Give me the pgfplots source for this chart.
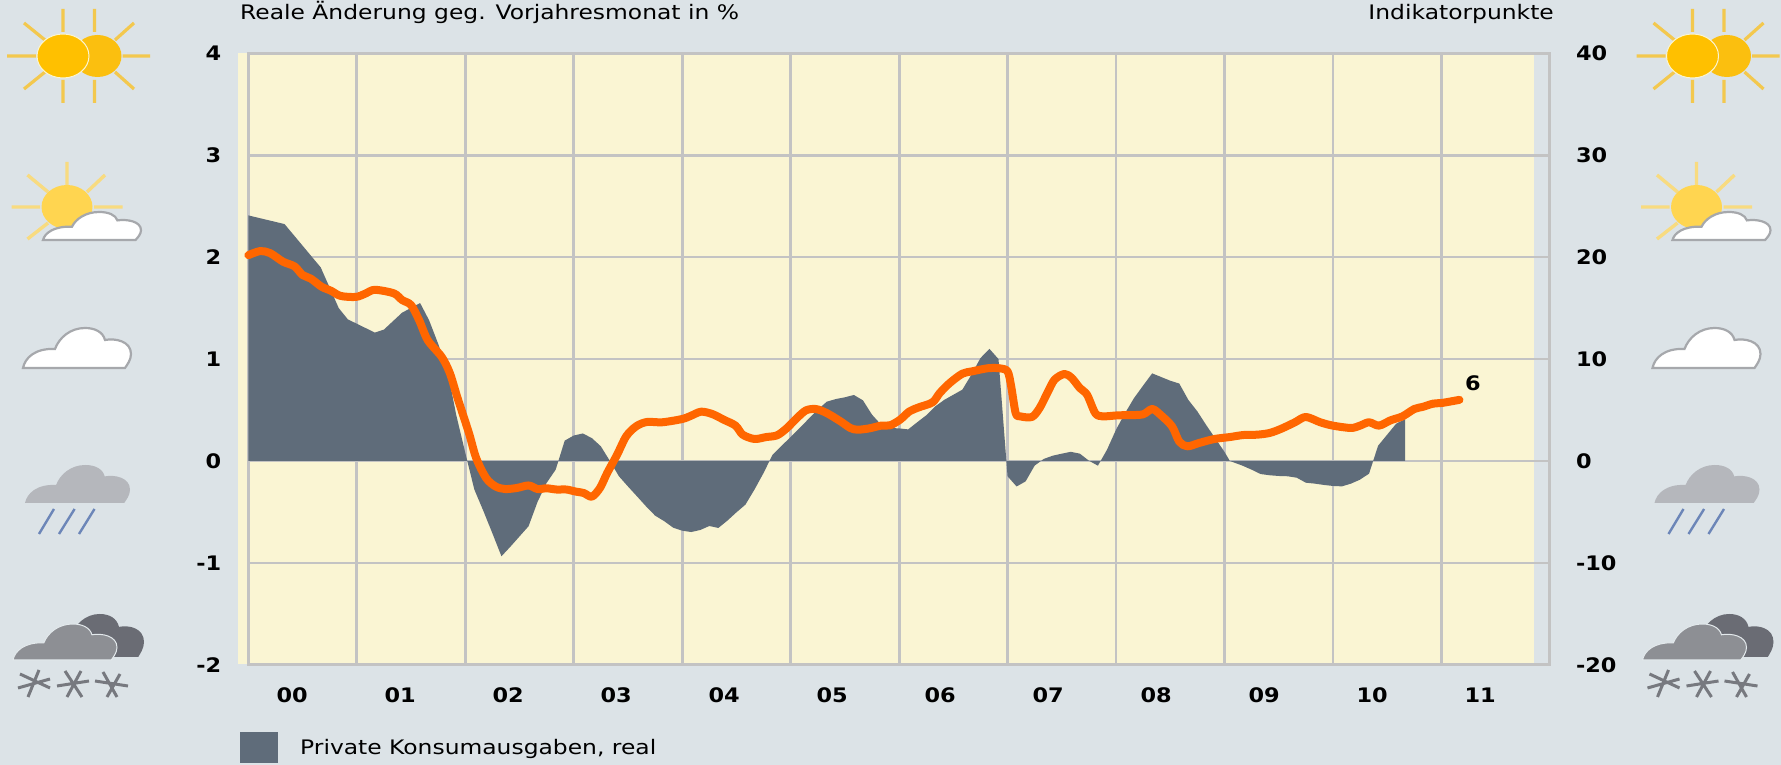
\documentclass[border=0pt]{standalone}
\usepackage{fontspec}
\setmainfont[FakeStretch=1.17]{DejaVu Sans}
\newfontfamily\tickf[FakeStretch=1.12]{DejaVu Sans}
\usepackage{pgfplots}
\pgfplotsset{compat=1.18}
\definecolor{bg}{HTML}{DCE3E7}
\definecolor{cream}{HTML}{FAF5D3}
\definecolor{gridc}{HTML}{C3C3C3}
\definecolor{areac}{HTML}{5F6C7A}
\definecolor{orangec}{HTML}{FF6600}
\definecolor{sunA}{HTML}{FFC000}
\definecolor{sunB}{HTML}{FBBF0F}
\definecolor{rayA}{HTML}{F3C84E}
\definecolor{sunC}{HTML}{FFD550}
\definecolor{rayC}{HTML}{F8DB80}
\definecolor{cloudline}{HTML}{A6A8AC}
\definecolor{rainc}{HTML}{B5B7BC}
\definecolor{dropc}{HTML}{6C86B8}
\definecolor{darkc}{HTML}{6A6C74}
\definecolor{midc}{HTML}{8D8F94}
\definecolor{starc}{HTML}{77797F}
\newcommand{\cloudat}[5]{% x y(bottom) w h style
  \begin{scope}[shift={(#1,#2)},xscale=#3/108,yscale=-#4/40]
    \path[#5] (0,0) .. controls (2,10) and (12,20) .. (32,19)
      .. controls (36,30) and (47,40) .. (62,40)
      .. controls (72,40) and (80,36) .. (82,28)
      .. controls (92,30) and (108,27) .. (108,14)
      .. controls (108,8) and (104,3) .. (102,0) -- cycle;
  \end{scope}}
\newcommand{\weathericons}[1]{%
  \begin{scope}[xshift=#1pt]
    % two suns
    \draw[rayA,line width=3.2pt]
      (63,9)--(63,32) (63,80)--(63,103) (94.5,9)--(94.5,32) (94.5,80)--(94.5,103)
      (7,56)--(36,56) (122.5,56)--(150,56)
      (24,23)--(45,40) (134,23)--(115,40) (24,89)--(45,72) (134,89)--(115,72);
    \fill[sunB] (97.5,56) ellipse [x radius=24,y radius=21];
    \filldraw[fill=sunA,draw=cream,line width=1pt] (63,56) ellipse [x radius=26,y radius=22];
    % sun and cloud
    \draw[rayC,line width=3.4pt]
      (67,162)--(67,185) (27.5,175)--(48,192) (105,175)--(87,192)
      (11.5,207)--(40,207) (94,207)--(122.5,207) (27.5,239)--(48,223);
    \fill[sunC] (67,207) ellipse [x radius=25.5,y radius=22];
    \cloudat{43}{240}{98}{28}{fill=white,draw=cloudline,line width=2.2pt}
    % cloud
    \cloudat{23}{368}{108}{40}{fill=white,draw=cloudline,line width=2.2pt}
    % rain
    \cloudat{25}{503}{105}{38}{fill=rainc}
    \draw[dropc,line width=2.4pt] (39,534)--(54,509) (59,534)--(74.6,509) (79,534)--(94.5,509);
    % snow
    \cloudat{40}{657}{104}{43}{fill=darkc}
    \cloudat{13}{660}{104}{36}{fill=midc,draw=bg!80!white,line width=1pt}
    \draw[starc,line width=3pt]
      (20,674)--(50,688) (28,697)--(39,670) (18,688)--(50,679)
      (57,686)--(89,681) (65,671)--(82,697) (81,671)--(67,697)
      (95,681)--(128,686) (103,672)--(117,697) (120,674)--(107,697);
  \end{scope}}
\begin{document}
\begin{tikzpicture}[x=1pt,y=1pt]
\useasboundingbox (0,0) rectangle (1781,765);
\fill[bg] (0,0) rectangle (1781,765);
\fill[cream] (238,765-53) rectangle (1534,765-664);
\begin{scope}[x=1pt,y=-1pt,yshift=765pt]
  \weathericons{0}
  \weathericons{1629.5}
  \node[anchor=base west,inner sep=0pt,font=\fontsize{20}{24}\selectfont] at (240,19.5) {Reale Änderung geg. Vorjahresmonat in \%};
  \node[anchor=base east,inner sep=0pt,font=\fontsize{20}{24}\selectfont] at (1554,19.5) {Indikatorpunkte};
\end{scope}
% ---------- left axis: real change in %
\begin{axis}[
  at={(248.4pt,100.2pt)},anchor=south west,
  scale only axis,width=1301.4pt,height=611.4pt,
  xmin=0,xmax=144,ymin=-2,ymax=4,
  axis line style={gridc,line width=2.8pt},
  major tick length=0pt,minor tick length=0pt,
  xtick={4.85,16.8,28.75,40.7,52.65,64.6,76.55,88.5,100.45,112.4,124.35,136.3},
  xticklabels={00,01,02,03,04,05,06,07,08,09,10,11},
  minor xtick={12,24,36,48,60,72,84,96,108,120,132},
  xminorgrids=true,xmajorgrids=false,ymajorgrids=true,
  grid style={gridc,line width=2.6pt},
  minor grid style={gridc,line width=2.8pt},
  ytick={-2,-1,0,1,2,3,4},
  yticklabels={-2,-1,0,1,2,3,4},
  ytick pos=left,xtick pos=bottom,
  tick label style={font=\tickf\fontsize{20}{24}\bfseries\selectfont,inner sep=0pt},
  yticklabel style={anchor=east,xshift=-27pt},
  xticklabel style={anchor=center,yshift=-30pt},
  legend style={at={(-0.00645,-0.11)},anchor=north west,draw=none,fill=none,inner sep=0pt,
    font=\fontsize{20}{24}\selectfont,
    nodes={inner sep=0pt,anchor=west},column sep=22pt},
  legend cell align=left,
  legend image code/.code={\fill[#1] (0pt,-15.5pt) rectangle (38pt,15.5pt);},
]
\addplot[fill=areac,draw=none] coordinates {
(0,0)(0,2.41)(4,2.325)(8,1.90)(10,1.50)(11,1.39)(14,1.26)(15,1.29)(17,1.455)(19,1.55)(20,1.38)(21,1.15)(22,0.90)(23,0.45)(24,0.08)
(25,-0.28)(26,-0.49)(27,-0.71)(28,-0.935)(29,-0.84)(30,-0.74)(31,-0.64)(32,-0.40)(33,-0.215)(34,-0.085)(35,0.20)(36,0.25)(37,0.27)(38,0.225)(39,0.144)
(40,0)(41,-0.15)(42,-0.25)(43,-0.347)(44,-0.445)(45,-0.536)(46,-0.59)(47,-0.654)(48,-0.684)(49,-0.697)(50,-0.677)(51,-0.638)(52,-0.657)(53,-0.585)(54,-0.504)(55,-0.428)(56,-0.28)(57,-0.118)(58,0.062)(59,0.15)
(60,0.235)(61,0.324)(62,0.415)(63,0.504)(64,0.582)(65,0.608)(66,0.625)(67,0.648)(68,0.595)(69,0.455)(70,0.357)(71,0.324)(72,0.32)(73,0.31)(74,0.38)(75,0.448)(76,0.536)(77,0.60)(78,0.65)(79,0.70)(80,0.847)(81,1.01)(82,1.10)(83,1.0)
(84,-0.15)(85,-0.25)(86,-0.20)(87,-0.045)(88,0.02)(89,0.052)(90,0.072)(91,0.09)(92,0.072)(93,0.003)(94,-0.046)(95,0.11)(96,0.307)(97,0.47)(98,0.618)(99,0.74)(100,0.86)(101,0.824)(102,0.788)(103,0.76)(104,0.60)
(105,0.487)(106,0.35)(107,0.22)(108,0.09)(108.6,0)(109,-0.013)(110,-0.046)(111,-0.085)(112,-0.128)(113,-0.14)(114,-0.147)(115,-0.15)(116,-0.164)(117,-0.213)(118,-0.222)(119,-0.235)(120,-0.245)(121,-0.249)(122,-0.222)(123,-0.183)(124,-0.124)(125,0.15)(126,0.258)(127,0.366)(128,0.412)(128,0)
};
\addlegendentry{Private Konsumausgaben, real}
\end{axis}
% ---------- right axis: indicator points
\begin{axis}[
  at={(248.4pt,100.2pt)},anchor=south west,
  scale only axis,width=1301.4pt,height=611.4pt,
  xmin=0,xmax=144,ymin=-20,ymax=40,
  hide x axis,
  axis y line*=right,
  y axis line style={draw=none},
  major tick length=0pt,
  ytick={-20,-10,0,10,20,30,40},
  yticklabels={-20,-10,0,10,20,30,40},
  tick label style={font=\tickf\fontsize{20}{24}\bfseries\selectfont,inner sep=0pt},
  yticklabel style={anchor=west,xshift=26pt},
  clip=false,
]
\addplot[orangec,line width=8pt,smooth,tension=0.5,line cap=round,line join=round] coordinates {
(0,20.2)(1.3,20.6)(2.4,20.4)(3.85,19.55)(5.1,19.1)(6,18.25)(6.9,17.9)(8.1,17.1)(9.15,16.7)(10.2,16.2)(11.9,16.1)(13,16.45)(14,16.8)(16.1,16.45)(17,15.8)(18,15.3)(18.9,13.8)(19.85,11.85)(21.4,10.2)(22.3,8.6)(23.1,6.3)
(24.4,2.75)(25.2,0.3)(26.3,-1.67)(27.35,-2.5)(28.4,-2.75)(29.7,-2.65)(31,-2.4)(32,-2.75)(33,-2.68)(34.1,-2.8)(35.2,-2.8)(36.2,-3.0)(37.1,-3.14)(38,-3.5)
(38.9,-2.65)(39.7,-1.18)(40.8,0.62)(41.8,2.42)(42.9,3.4)(44.1,3.83)(45.8,3.8)(48,4.12)(49,4.45)(50.1,4.84)(51.35,4.6)(52.6,4.05)(53.9,3.47)(54.7,2.58)(56,2.16)(57.3,2.35)(58.5,2.52)(59.6,3.24)(60.7,4.22)(61.7,4.97)(62.8,5.1)(64,4.7)(65.5,3.9)(66.6,3.24)(67.4,3.07)(68.7,3.2)(70,3.47)(71,3.5)(72.1,4.05)(73.15,4.87)(74.2,5.27)(75.7,5.76)(76.5,6.67)(77.6,7.65)(79,8.57)(80.1,8.8)(81.8,9.1)(83.1,9.1)(84,8.8)(84.4,7.33)(84.9,4.7)(85.4,4.38)(86.7,4.32)(87.55,5.2)(88.4,6.67)(89.2,7.98)(90.3,8.54)(91.1,8.15)(92,7.16)(92.8,6.5)(93.7,4.7)(94.5,4.38)(96.2,4.48)(97.5,4.5)(99,4.58)(100,5.1)(100.9,4.55)(102.2,3.4)(103,1.9)
(103.9,1.44)(105.2,1.77)(106.9,2.16)(108.6,2.35)(110.1,2.55)(111.6,2.58)(113,2.75)(114.3,3.17)(115.8,3.8)(117,4.32)(118.6,3.8)(120,3.47)(122,3.24)(123,3.47)(124,3.8)(125.1,3.47)(126.4,4.0)(127.7,4.38)(129,5.1)(129.9,5.3)(131.1,5.63)(132.1,5.7)(134,6.0)
};
\node[font=\tickf\fontsize{20}{24}\bfseries\selectfont,inner sep=0pt] at (axis cs:135.5,7.66) {6};
\end{axis}
\end{tikzpicture}
\end{document}
